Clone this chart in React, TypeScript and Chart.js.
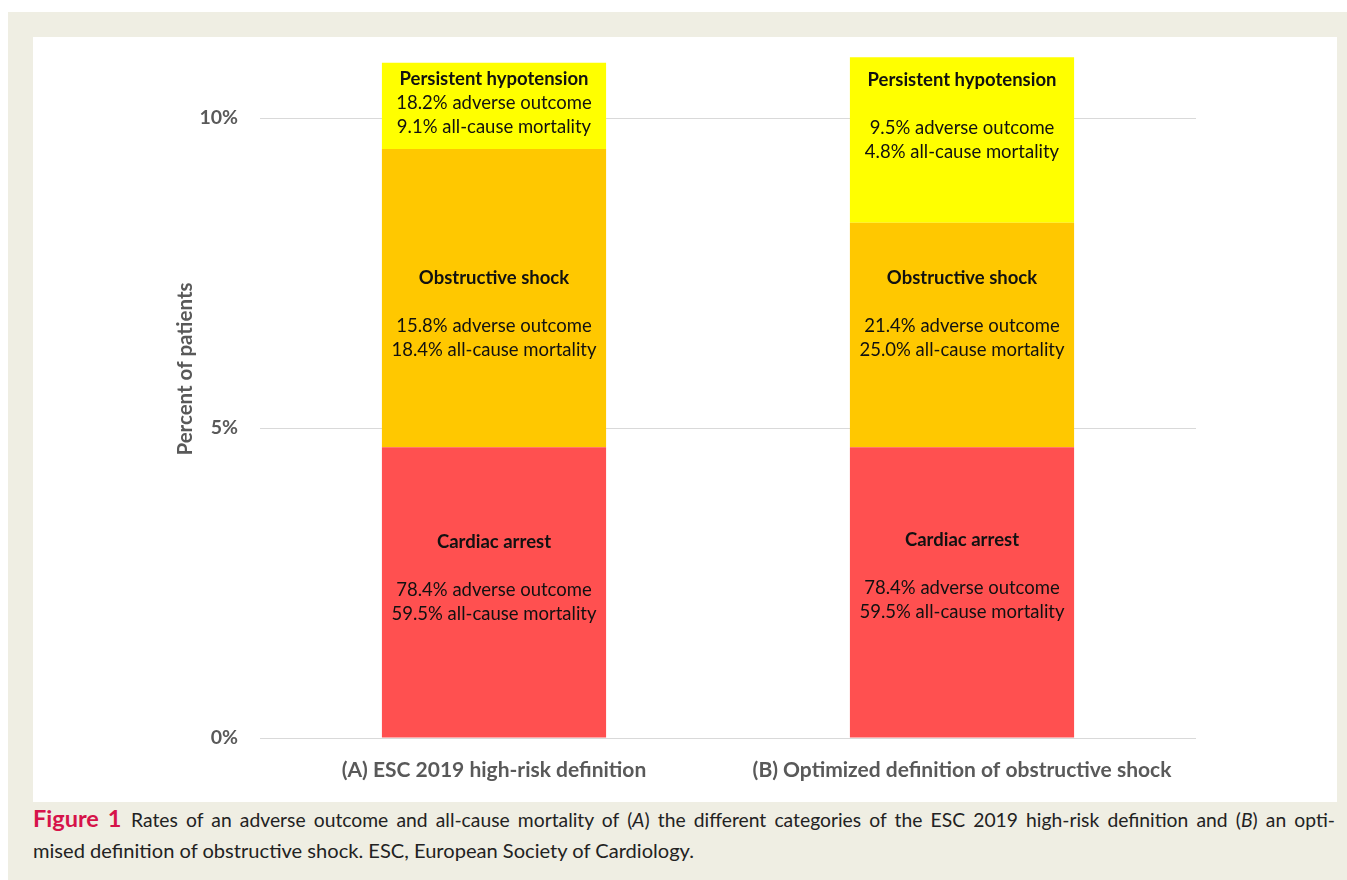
import React, { useEffect, useRef } from "react";
import { Chart, registerables } from "chart.js";

Chart.register(...registerables);

const categories = [
  "(A) ESC 2019 high-risk definition",
  "(B) Optimized definition of obstructive shock",
];
const seriesNames = ["Cardiac arrest", "Obstructive shock", "Persistent hypotension"];
const cardiacArrest = [4.69, 4.69];
const obstructiveShock = [4.81, 3.62];
const persistentHypotension = [1.39, 2.67];

const cardiacArrestAdverse = [78.4, 78.4];
const cardiacArrestMortality = [59.5, 59.5];
const obstructiveAdverse = [15.8, 21.4];
const obstructiveMortality = [18.4, 25.0];
const hypotensionAdverse = [18.2, 9.5];
const hypotensionMortality = [9.1, 4.8];

const yTicks = [0, 5, 10];
const yMax = 11;

const seriesColors = ["#FF5050", "#FFC800", "#FFFF00"];

// label styling (pixel offsets of each text block from its segment centre, blank spacer line)
const labelOffsets = [
  [-14, -16.5],
  [16, -21],
  [-2.5, -24],
];
const labelBlank = [
  [true, true],
  [true, true],
  [false, true],
];

const adverseBySeries = [cardiacArrestAdverse, obstructiveAdverse, hypotensionAdverse];
const mortalityBySeries = [cardiacArrestMortality, obstructiveMortality, hypotensionMortality];

const FONT = "Lato, 'Open Sans', sans-serif";

const segmentLabelPlugin = {
  id: "segmentLabels",
  afterDatasetsDraw(chart: any) {
    const ctx = chart.ctx;
    ctx.save();
    ctx.textAlign = "center";
    ctx.textBaseline = "middle";
    ctx.fillStyle = "#111111";
    chart.data.datasets.forEach((ds: any, i: number) => {
      const meta = chart.getDatasetMeta(i);
      meta.data.forEach((el: any, j: number) => {
        const lines: { t: string; b: boolean }[] = [{ t: seriesNames[i], b: true }];
        if (labelBlank[i][j]) lines.push({ t: "", b: false });
        lines.push({ t: adverseBySeries[i][j].toFixed(1) + "% adverse outcome", b: false });
        lines.push({ t: mortalityBySeries[i][j].toFixed(1) + "% all-cause mortality", b: false });
        const lh = 24;
        const center = (el.y + el.base) / 2 + labelOffsets[i][j];
        const start = center - ((lines.length - 1) * lh) / 2;
        lines.forEach((ln, k) => {
          if (!ln.t) return;
          ctx.font = (ln.b ? "bold " : "") + "18.5px " + FONT;
          ctx.fillText(ln.t, el.x, start + k * lh);
        });
      });
    });
    ctx.restore();
  },
};

const yTitlePlugin = {
  id: "yTitle",
  afterDraw(chart: any) {
    const ctx = chart.ctx;
    ctx.save();
    ctx.translate(152, 332);
    ctx.rotate(-Math.PI / 2);
    ctx.textAlign = "center";
    ctx.textBaseline = "middle";
    ctx.fillStyle = "#595959";
    ctx.font = "bold 20.5px " + FONT;
    ctx.fillText("Percent of patients", 0, 0);
    ctx.restore();
  },
};

function ChartPanel() {
  const ref = useRef<HTMLCanvasElement | null>(null);
  useEffect(() => {
    if (!ref.current) return;
    const datasets = [cardiacArrest, obstructiveShock, persistentHypotension].map((d, i) => ({
      label: seriesNames[i],
      data: d,
      backgroundColor: seriesColors[i],
      borderWidth: 0,
      barPercentage: 0.479,
      categoryPercentage: 1,
    }));
    const chart = new Chart(ref.current, {
      type: "bar",
      data: { labels: categories, datasets },
      options: {
        animation: false,
        responsive: false,
        devicePixelRatio: 1,
        layout: { padding: { top: 19, right: 141, left: 0, bottom: 0 } },
        plugins: { legend: { display: false }, tooltip: { enabled: false } },
        scales: {
          x: {
            stacked: true,
            grid: { display: false, drawTicks: false },
            border: { display: false },
            ticks: {
              padding: 20,
              color: "#595959",
              maxRotation: 0,
              font: { family: FONT, size: 21, weight: "bold" },
            },
            afterFit: (s: any) => {
              s.height = 64;
              s.paddingLeft = 0;
              s.paddingRight = 0;
            },
          },
          y: {
            stacked: true,
            min: 0,
            max: yMax,
            grid: { color: "#d9d9d9", lineWidth: 1, drawTicks: false },
            border: { display: false },
            ticks: {
              stepSize: 5,
              padding: 22,
              color: "#595959",
              font: { family: FONT, size: 19.5, weight: "bold" },
              callback: (v: any) => v + "%",
            },
            afterBuildTicks: (s: any) => {
              s.ticks = yTicks.map((v) => ({ value: v }));
            },
            afterFit: (s: any) => {
              s.width = 227;
              s.paddingTop = 0;
              s.paddingBottom = 0;
            },
          },
        },
      },
      plugins: [segmentLabelPlugin, yTitlePlugin],
    } as any);
    return () => chart.destroy();
  }, []);
  return <canvas ref={ref} width={1304} height={765} style={{ display: "block", width: 1304, height: 765 }} />;
}

export default function App() {
  useEffect(() => {
    document.body.style.overflow = "hidden";
  }, []);
  return (
    <div
      style={{
        position: "absolute",
        left: 8,
        top: 12,
        width: 1339,
        height: 868,
        background: "#EFEEE3",
        overflow: "hidden",
      }}
    >
      <div style={{ position: "absolute", left: 25, top: 25, width: 1304, height: 765, background: "#ffffff" }}>
        <ChartPanel />
      </div>
      <div
        style={{
          position: "absolute",
          left: 25,
          top: 791,
          width: 1302,
          fontFamily: FONT,
          fontSize: 19.3,
          lineHeight: "30px",
          color: "#222222",
        }}
      >
        <div style={{ textAlign: "justify", textAlignLast: "justify", whiteSpace: "nowrap" }}>
          <span style={{ color: "#D6134A", fontWeight: "bold", fontSize: 23.5 }}>Figure 1</span>
          {"\u2002"}Rates of an adverse outcome and all-cause mortality of (<i>A</i>) the different categories of the ESC 2019
          high-risk definition and (<i>B</i>) an opti-
        </div>
        <div style={{ fontSize: 20.1 }}>mised definition of obstructive shock. ESC, European Society of Cardiology.</div>
      </div>
    </div>
  );
}
